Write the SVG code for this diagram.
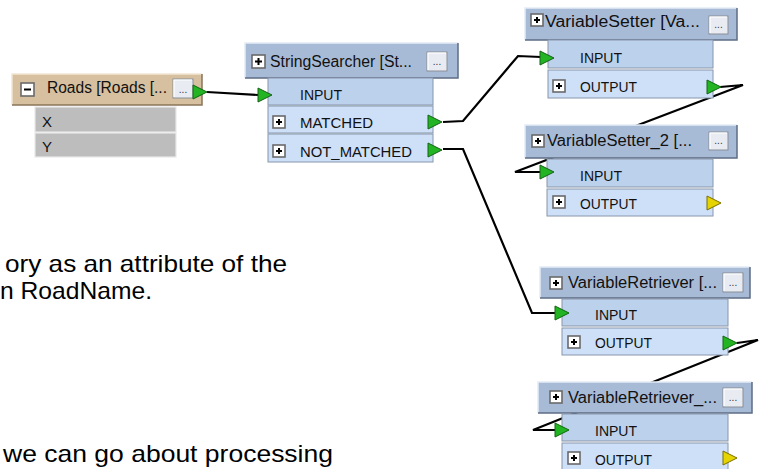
<svg xmlns="http://www.w3.org/2000/svg" width="760" height="469" viewBox="0 0 760 469">
<style>
.bg{fill:#ffffff}
.hdr{fill:#a8bbd6}
.hdrT{fill:#d7c09f}
.hl{fill:none;stroke:#e4ecf6;stroke-width:1.5}
.sh{fill:none;stroke:#5e6e84;stroke-width:1.5}
.rin{fill:#bcd1ec;stroke:#8896aa;stroke-width:1}
.rout{fill:#cde0f8;stroke:#8896aa;stroke-width:1}
.rg{fill:#bdbdbd;stroke:#e8e8e8;stroke-width:1.2}
.box{fill:#ffffff;stroke:#6a6a6a;stroke-width:1.6}
.sign{fill:none;stroke:#000000;stroke-width:2}
.btn{fill:#e8ecf2;stroke:#8a8f98;stroke-width:1}
.bhl{fill:none;stroke:#ffffff;stroke-width:1.2}
.ht{font-family:"Liberation Sans",Arial,sans-serif;font-size:16px;fill:#111111}
.rt{font-family:"Liberation Sans",Arial,sans-serif;font-size:15px;fill:#111111}
.bt{font-family:"Liberation Sans",Arial,sans-serif;font-size:10px;fill:#333333}
.pt{font-family:"Liberation Sans",Arial,sans-serif;font-size:24px;fill:#000000}
.tg{fill:#22b422;stroke:#146414;stroke-width:1}
.ty{fill:#e6d400;stroke:#7a6e00;stroke-width:1}
.cn{fill:none;stroke:#000000;stroke-width:2.2;stroke-linejoin:miter}
</style>
<rect class="bg" x="0" y="0" width="760" height="469"/>

<g id="paragraph">
<text class="pt" x="5" y="272" textLength="282" lengthAdjust="spacingAndGlyphs">ory as an attribute of the</text>
<text class="pt" x="0" y="299" textLength="152" lengthAdjust="spacingAndGlyphs">n RoadName.</text>
<text class="pt" x="3" y="462" textLength="330" lengthAdjust="spacingAndGlyphs">we can go about processing</text>
</g>

<g id="connectors">
<path class="cn" d="M207,92 L258,95"/>
<path class="cn" d="M443,122 L463,121 L518,56 L541,57"/>
<path class="cn" d="M443,149 L463,149 L532,313 L556,313"/>
<path class="cn" d="M720,87 L743,85 L515,172 L541,172"/>
<path class="cn" d="M737,343 L758,340 L533,430 L556,430"/>
</g>

<g id="roads">
<rect class="rg" x="35" y="107" width="141" height="25"/>
<rect class="rg" x="35" y="133" width="141" height="24"/>
<text class="rt" x="42" y="127">X</text>
<text class="rt" x="42" y="152">Y</text>
<rect class="hdrT" x="12" y="74" width="190" height="31"/>
<polyline class="hl" points="12,105 12,74 202,74" style="stroke:#f2e6d2"/>
<polyline class="sh" points="12,105 202,105 202,74" style="stroke:#8a7458"/>
<rect class="box" x="21" y="83" width="13" height="13"/>
<line class="sign" x1="24" y1="89.5" x2="31" y2="89.5"/>
<text class="ht" x="47" y="93" textLength="120" lengthAdjust="spacingAndGlyphs">Roads [Roads [...</text>
<rect class="btn" x="173" y="79" width="20" height="19"/>
<polyline class="bhl" points="174,97 174,80 192,80"/>
<text class="bt" x="183" y="93" text-anchor="middle">...</text>
<polygon class="tg" points="193,85 207,92 193,99"/>
</g>

<g id="stringsearcher">
<rect class="hdr" x="245" y="43" width="213" height="35"/>
<polyline class="hl" points="245,78 245,43 458,43"/>
<polyline class="sh" points="245,78 458,78 458,43"/>
<rect class="box" x="252" y="55" width="13" height="13"/>
<line class="sign" x1="255" y1="61.5" x2="262" y2="61.5"/>
<line class="sign" x1="258.5" y1="58" x2="258.5" y2="65"/>
<text class="ht" x="270" y="67" textLength="142" lengthAdjust="spacingAndGlyphs">StringSearcher [St...</text>
<rect class="btn" x="427" y="52" width="20" height="19"/>
<polyline class="bhl" points="428,70 428,53 446,53"/>
<text class="bt" x="437" y="65" text-anchor="middle">...</text>
<rect class="rin" x="268" y="78" width="165" height="27"/>
<text class="rt" x="300" y="100" textLength="42" lengthAdjust="spacingAndGlyphs">INPUT</text>
<rect class="rout" x="268" y="106" width="165" height="27"/>
<rect class="box" x="273" y="116" width="12" height="12"/>
<line class="sign" x1="276" y1="122" x2="282" y2="122"/>
<line class="sign" x1="279" y1="119" x2="279" y2="125"/>
<text class="rt" x="300" y="128" textLength="73" lengthAdjust="spacingAndGlyphs">MATCHED</text>
<rect class="rout" x="268" y="134" width="165" height="28"/>
<rect class="box" x="273" y="145" width="12" height="12"/>
<line class="sign" x1="276" y1="151" x2="282" y2="151"/>
<line class="sign" x1="279" y1="148" x2="279" y2="154"/>
<text class="rt" x="300" y="157" textLength="112" lengthAdjust="spacingAndGlyphs">NOT_MATCHED</text>
<polygon class="tg" points="258,88 272,95 258,102"/>
<polygon class="tg" points="428,115 442,122 428,129"/>
<polygon class="tg" points="428,143 442,150 428,157"/>
</g>

<g id="variablesetter">
<rect class="hdr" x="525" y="8" width="212" height="32"/>
<polyline class="hl" points="525,40 525,8 737,8"/>
<polyline class="sh" points="525,40 737,40 737,8"/>
<rect class="box" x="531" y="14" width="12" height="12"/>
<line class="sign" x1="534" y1="20" x2="540" y2="20"/>
<line class="sign" x1="537" y1="17" x2="537" y2="23"/>
<text class="ht" x="545" y="27" textLength="155" lengthAdjust="spacingAndGlyphs">VariableSetter [Va...</text>
<rect class="btn" x="709" y="16" width="19" height="18"/>
<polyline class="bhl" points="710,33 710,17 727,17"/>
<text class="bt" x="718.5" y="28" text-anchor="middle">...</text>
<rect class="rin" x="548" y="40" width="165" height="28"/>
<text class="rt" x="580" y="63" textLength="42" lengthAdjust="spacingAndGlyphs">INPUT</text>
<rect class="rout" x="548" y="70" width="165" height="28"/>
<rect class="box" x="553" y="80" width="12" height="12"/>
<line class="sign" x1="556" y1="86" x2="562" y2="86"/>
<line class="sign" x1="559" y1="83" x2="559" y2="89"/>
<text class="rt" x="580" y="92" textLength="57" lengthAdjust="spacingAndGlyphs">OUTPUT</text>
<polygon class="tg" points="540,51 554,58 540,65"/>
<polygon class="tg" points="707,80 721,87 707,94"/>
</g>

<g id="variablesetter2">
<rect class="hdr" x="525" y="125" width="212" height="33"/>
<polyline class="hl" points="525,158 525,125 737,125"/>
<polyline class="sh" points="525,158 737,158 737,125"/>
<rect class="box" x="532" y="135" width="12" height="12"/>
<line class="sign" x1="535" y1="141" x2="541" y2="141"/>
<line class="sign" x1="538" y1="138" x2="538" y2="144"/>
<text class="ht" x="547" y="146" textLength="145" lengthAdjust="spacingAndGlyphs">VariableSetter_2 [...</text>
<rect class="btn" x="709" y="132" width="19" height="18"/>
<polyline class="bhl" points="710,149 710,133 727,133"/>
<text class="bt" x="718.5" y="144" text-anchor="middle">...</text>
<rect class="rin" x="547" y="159" width="166" height="28"/>
<text class="rt" x="580" y="181" textLength="42" lengthAdjust="spacingAndGlyphs">INPUT</text>
<rect class="rout" x="547" y="189" width="166" height="27"/>
<rect class="box" x="553" y="196" width="12" height="12"/>
<line class="sign" x1="556" y1="202" x2="562" y2="202"/>
<line class="sign" x1="559" y1="199" x2="559" y2="205"/>
<text class="rt" x="580" y="209" textLength="57" lengthAdjust="spacingAndGlyphs">OUTPUT</text>
<polygon class="tg" points="540,165 554,172 540,179"/>
<polygon class="ty" points="707,196 721,203 707,210"/>
</g>

<g id="variableretriever">
<rect class="hdr" x="540" y="267" width="210" height="31"/>
<polyline class="hl" points="540,298 540,267 750,267"/>
<polyline class="sh" points="540,298 750,298 750,267"/>
<rect class="box" x="550" y="277" width="12" height="12"/>
<line class="sign" x1="553" y1="283" x2="559" y2="283"/>
<line class="sign" x1="556" y1="280" x2="556" y2="286"/>
<text class="ht" x="568" y="288" textLength="149" lengthAdjust="spacingAndGlyphs">VariableRetriever [...</text>
<rect class="btn" x="723" y="273" width="20" height="19"/>
<polyline class="bhl" points="724,291 724,274 742,274"/>
<text class="bt" x="733" y="286" text-anchor="middle">...</text>
<rect class="rin" x="562" y="299" width="166" height="27"/>
<text class="rt" x="595" y="320" textLength="42" lengthAdjust="spacingAndGlyphs">INPUT</text>
<rect class="rout" x="562" y="328" width="166" height="27"/>
<rect class="box" x="568" y="336" width="12" height="12"/>
<line class="sign" x1="571" y1="342" x2="577" y2="342"/>
<line class="sign" x1="574" y1="339" x2="574" y2="345"/>
<text class="rt" x="595" y="348" textLength="57" lengthAdjust="spacingAndGlyphs">OUTPUT</text>
<polygon class="tg" points="555,306 569,313 555,320"/>
<polygon class="tg" points="723,336 737,343 723,350"/>
</g>

<g id="variableretriever2">
<rect class="hdr" x="538" y="382" width="214" height="31"/>
<polyline class="hl" points="538,413 538,382 752,382"/>
<polyline class="sh" points="538,413 752,413 752,382"/>
<rect class="box" x="550" y="391" width="12" height="12"/>
<line class="sign" x1="553" y1="397" x2="559" y2="397"/>
<line class="sign" x1="556" y1="394" x2="556" y2="400"/>
<text class="ht" x="568" y="403" textLength="149" lengthAdjust="spacingAndGlyphs">VariableRetriever_...</text>
<rect class="btn" x="723" y="388" width="20" height="19"/>
<polyline class="bhl" points="724,406 724,389 742,389"/>
<text class="bt" x="733" y="401" text-anchor="middle">...</text>
<rect class="rin" x="562" y="414" width="166" height="27"/>
<text class="rt" x="595" y="436" textLength="42" lengthAdjust="spacingAndGlyphs">INPUT</text>
<rect class="rout" x="562" y="443" width="166" height="28"/>
<rect class="box" x="568" y="452" width="12" height="12"/>
<line class="sign" x1="571" y1="458" x2="577" y2="458"/>
<line class="sign" x1="574" y1="455" x2="574" y2="461"/>
<text class="rt" x="595" y="465" textLength="57" lengthAdjust="spacingAndGlyphs">OUTPUT</text>
<polygon class="tg" points="555,423 569,430 555,437"/>
<polygon class="ty" points="723,451 737,458 723,465"/>
</g>
</svg>
